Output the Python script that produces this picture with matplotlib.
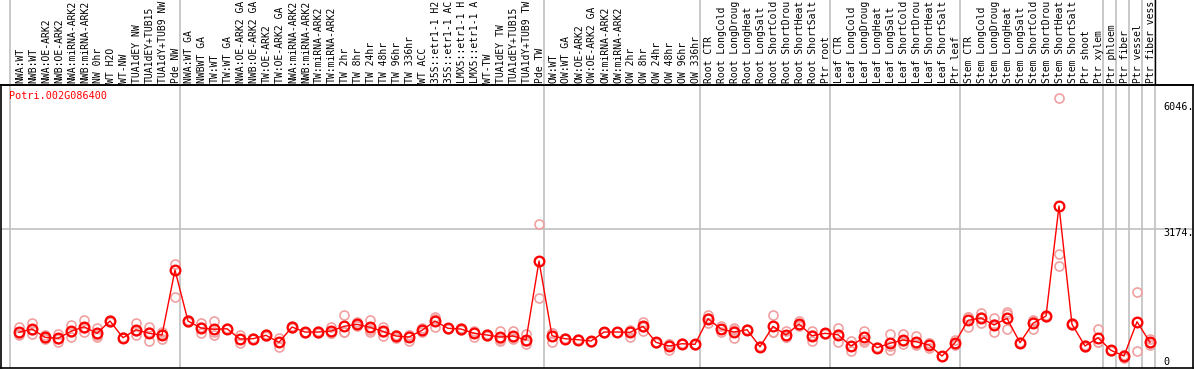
import matplotlib
matplotlib.use("Agg")
import matplotlib.pyplot as plt
import numpy as np

gene = "Potri.002G086400"

samples = [
    "NWA:WT", "NWB:WT", "NWA:OE-ARK2", "NWB:OE-ARK2", "NWA:miRNA-ARK2", "NWB:miRNA-ARK2",
    "NW 0hr", "WT H2O", "WT-NW", "TUA1dEY NW", "TUA1dEY+TUB15", "TUA1dY+TUB9 NW", "Pde NW",
    "NWA:WT GA", "NWBWT GA", "TW:WT", "TW:WT GA", "NWA:OE-ARK2 GA", "NWB:OE-ARK2 GA",
    "TW:OE-ARK2", "TW:OE-ARK2 GA", "NWA:miRNA-ARK2", "NWB:miRNA-ARK2", "TW:miRNA-ARK2",
    "TW:miRNA-ARK2", "TW 2hr", "TW 8hr", "TW 24hr", "TW 48hr", "TW 96hr", "TW 336hr", "WT ACC",
    "35S::etr1-1 H2", "35S::etr1-1 AC", "LMX5::etr1-1 H", "LMX5::etr1-1 A", "WT-TW",
    "TUA1dEY TW", "TUA1dEY+TUB15", "TUA1dY+TUB9 TW", "Pde TW",
    "OW:WT", "OW:WT GA", "OW:OE-ARK2", "OW:OE-ARK2 GA", "OW:miRNA-ARK2", "OW:miRNA-ARK2",
    "OW 2hr", "OW 8hr", "OW 24hr", "OW 48hr", "OW 96hr", "OW 336hr",
    "Root CTR", "Root LongCold", "Root LongDroug", "Root LongHeat", "Root LongSalt",
    "Root ShortCold", "Root ShortDrou", "Root ShortHeat", "Root ShortSalt", "Ptr root",
    "Leaf CTR", "Leaf LongCold", "Leaf LongDroug", "Leaf LongHeat", "Leaf LongSalt",
    "Leaf ShortCold", "Leaf ShortDrou", "Leaf ShortHeat", "Leaf ShortSalt", "Ptr leaf",
    "Stem CTR", "Stem LongCold", "Stem LongDroug", "Stem LongHeat", "Stem LongSalt",
    "Stem ShortCold", "Stem ShortDrou", "Stem ShortHeat", "Stem ShortSalt", "Ptr shoot",
    "Ptr xylem", "Ptr phloem", "Ptr fiber", "Ptr vessel", "Ptr fiber vess",
]

# number of samples in each block between the grey separators
group_sizes = [13, 28, 12, 10, 10, 11, 1, 1, 1, 1]

# mean expression per sample
mean_vals = [
    631, 712, 508, 484, 655, 768, 606, 908, 498, 695, 606, 565, 2160,
    908, 737, 705, 719, 466, 474, 557, 385, 761, 638, 638, 663, 778, 827, 754, 655,
    540, 516, 680, 908, 729, 712, 606, 565, 516, 540, 442, 2381,
    547, 474, 449, 417, 638, 638, 631, 778, 385, 295, 351, 336,
    965, 712, 638, 695, 277, 778, 565, 835, 547, 606,
    572, 295, 508, 253, 361, 442, 400, 319, 49, 376,
    926, 982, 810, 975, 376, 852, 1031, 3732, 827, 295, 498,
    189, 49, 891, 385,
]

# replicates
rep1 = [
    754, 867, 565, 589, 810, 933, 729, 933, 510, 852, 754, 646, 2308,
    930, 852, 916, 740, 571, 490, 580, 484, 780, 650, 655, 754, 1056, 876, 933, 768,
    484, 425, 729, 1014, 745, 725, 663, 590, 663, 663, 582, 3290,
    400, 490, 460, 430, 650, 645, 695, 891, 400, 196, 365, 350,
    989, 793, 729, 720, 290, 1056, 663, 908, 663, 620,
    729, 417, 670, 265, 582, 582, 547, 238, 60, 434,
    1014, 1097, 975, 1137, 390, 933, 1060, 6376, 850, 310, 712,
    200, 5, 172, 459,
]
rep2 = [
    582, 582, 459, 400, 508, 646, 523, 876, 485, 565, 417, 459, 1498,
    890, 606, 646, 705, 361, 460, 540, 277, 745, 625, 620, 621, 646, 810, 646, 547,
    570, 560, 631, 754, 715, 700, 523, 540, 417, 484, 336, 1473,
    620, 460, 440, 405, 625, 630, 523, 768, 370, 345, 340, 325,
    852, 631, 498, 680, 265, 646, 523, 810, 417, 595,
    400, 172, 400, 240, 196, 336, 319, 360, 40, 331,
    768, 852, 631, 712, 360, 705, 1010, 2553, 800, 280, 385,
    180, 80, 1613, 319,
]
rep3 = [
    557, 687, 500, 463, 647, 725, 566, 915, 499, 668, 647, 590, 2150,
    904, 753, 553, 712, 466, 472, 551, 394, 758, 639, 639, 614, 632, 795, 683, 650,
    566, 563, 680, 956, 727, 711, 632, 565, 468, 473, 408, 2380,
    621, 472, 447, 416, 639, 639, 675, 675, 385, 344, 348, 333,
    1054, 712, 687, 685, 276, 632, 509, 787, 561, 603,
    587, 296, 454, 254, 305, 408, 334, 359, 47, 363,
    996, 997, 824, 1076, 378, 918, 1023, 2266, 831, 295, 397,
    187, 67, 888, 377,
]

x = np.arange(len(samples))
line_red = "#ff0000"
pale_red = "#f0a0a0"
grid_grey = "#c0c0c0"
font = "DejaVu Sans Mono"

fig = plt.figure(figsize=(11.94, 3.70), dpi=100)
W, H = 1194.0, 370.0
ax = fig.add_axes([1 / W, 2 / H, 1192 / W, 283 / H])
hd = fig.add_axes([1 / W, 285 / H, 1192 / W, 85 / H], sharex=ax)

xmin, xmax = -18 / 13, 1174 / 13
ax.set_xlim(xmin, xmax)
ax.set_ylim(-245, 6702)
hd.set_ylim(0, 85)

# separators between sample blocks
edges = np.cumsum(group_sizes) - 0.6
edges = np.concatenate([[-0.7], edges])
for e in edges:
    ax.axvline(e, color=grid_grey, lw=1.2, zorder=0)
    hd.axvline(e, color=grid_grey, lw=1.2, zorder=0)
hd.axvline(edges[-1], color="black", lw=1.0, zorder=1)
ax.axhline(3174, color=grid_grey, lw=1.2, zorder=0)

for r in (rep1, rep2, rep3):
    ax.plot(x, r, ls="none", marker="o", ms=6.5, mfc="none", mec=pale_red, mew=1.2, zorder=2)
ax.plot(x, mean_vals, color=line_red, lw=1.0, zorder=3)
ax.plot(x, mean_vals, ls="none", marker="o", ms=7, mfc="none", mec=line_red, mew=1.6, zorder=4)

# right-hand value labels
for txt, yv in [("6046.", 6170), ("3174.", 3070), ("0", -90)]:
    ax.text((1163 - 1) / 1192, yv, txt, transform=ax.get_yaxis_transform(),
            ha="left", va="center", fontsize=7.3, family=font, color="black")

ax.text(8 / 1192, 6430, gene, transform=ax.get_yaxis_transform(), ha="left",
        va="center", fontsize=7.3, family=font, color=line_red)

for i, s in enumerate(samples):
    hd.text(i + 0.08, 2.0, s, rotation=90, ha="center", va="bottom",
            fontsize=7.0, family=font, color="black", clip_on=False)

for a in (ax, hd):
    a.set_xticks([])
    a.set_yticks([])
for sp in ax.spines.values():
    sp.set_color("black")
    sp.set_linewidth(1.2)
for k in ("left", "right", "top"):
    hd.spines[k].set_visible(False)
hd.spines["bottom"].set_linewidth(1.2)
hd.patch.set_alpha(0)

fig.savefig("out.png", dpi=100)
